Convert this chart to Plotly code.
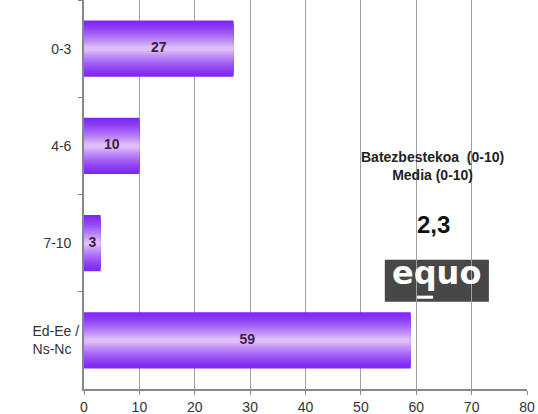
import plotly.graph_objects as go

categories = ["0-3", "4-6", "7-10", "Ed-Ee /<br>Ns-Nc"]
values = [27, 10, 3, 59]
x_ticks = [0, 10, 20, 30, 40, 50, 60, 70, 80]
summary_title = "Batezbestekoa  (0-10)<br>Media (0-10)"
summary_value = "2,3"
logo_text = "equo"

fig = go.Figure()

# gradient-like bars: overlay bars of decreasing width and lighter colour
edge = (128, 40, 245)
center = (222, 190, 248)
n = 14
full_w = 0.58
for i in range(n):
    t = i / (n - 1)
    c = tuple(int(edge[k] + (center[k] - edge[k]) * (t ** 1.3)) for k in range(3))
    w = full_w * (1 - t * 0.92)
    fig.add_trace(go.Bar(
        x=values, y=categories, orientation="h", width=w,
        marker=dict(color="rgb(%d,%d,%d)" % c, line=dict(width=0)),
        hoverinfo="skip", showlegend=False,
    ))

fig.add_trace(go.Scatter(
    x=[v / 2 for v in values], y=categories, mode="text",
    text=["<b>%d</b>" % v for v in values],
    textfont=dict(family="Liberation Sans, Arial", size=14, color="#3a2046"),
    showlegend=False, hoverinfo="skip",
))

fig.update_layout(
    width=538, height=414,
    margin=dict(l=84, r=11, t=0, b=25),
    paper_bgcolor="white", plot_bgcolor="white",
    barmode="overlay",
    font=dict(family="Liberation Sans, Arial", size=14, color="#333"),
    xaxis=dict(
        range=[0, 80], tickvals=x_ticks, ticktext=[str(v) for v in x_ticks],
        showgrid=True, gridcolor="#a0a0a0", gridwidth=1,
        showline=True, linecolor="#888", linewidth=2,
        ticks="outside", ticklen=4, tickcolor="#888",
        zeroline=False, tickfont=dict(size=14, color="#333"), automargin=False,
    ),
    yaxis=dict(
        categoryorder="array", categoryarray=categories, autorange="reversed",
        showline=True, linecolor="#888", linewidth=2,
        ticks="outside", ticklen=4, tickcolor="#888", tickson="boundaries",
        showgrid=False, tickfont=dict(size=14, color="#333"), ticksuffix="  ",
        automargin=False,
    ),
    annotations=[
        dict(xref="paper", yref="paper", x=0.786, y=0.573, xanchor="center", yanchor="middle",
             text="<b>" + summary_title + "</b>",
             showarrow=False, font=dict(size=14, color="#222"), align="center"),
        dict(xref="paper", yref="paper", x=0.790, y=0.423, xanchor="center", yanchor="middle",
             text="<b>" + summary_value + "</b>",
             showarrow=False, font=dict(size=24, color="#111")),
        dict(xref="paper", yref="paper", x=0.796, y=0.298, xanchor="center", yanchor="middle",
             text="<b>" + logo_text + "</b>",
             showarrow=False, font=dict(size=32, color="white", family="DejaVu Sans")),
    ],
    shapes=[
        dict(type="rect", xref="paper", yref="paper", x0=0.679, x1=0.914, y0=0.224, y1=0.332,
             fillcolor="#474747", line=dict(width=0), layer="between"),
        dict(type="rect", xref="paper", yref="paper", x0=0.752, x1=0.788, y0=0.232, y1=0.240,
             fillcolor="white", line=dict(width=0), layer="above"),
    ],
)

fig.write_html(
    "out.html",
    config={"displayModeBar": False},
    post_script="document.body.style.margin='0';document.body.style.overflow='hidden';",
)
